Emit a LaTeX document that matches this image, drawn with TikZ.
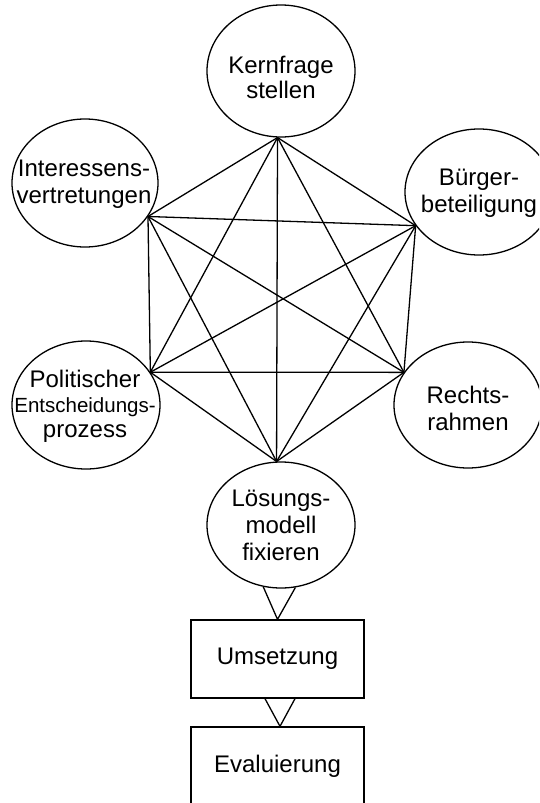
\documentclass[tikz,border=0pt]{standalone}
\usepackage{fontspec}
\setmainfont{Liberation Sans}
\usetikzlibrary{shapes.geometric}
\begin{document}
\begin{tikzpicture}[x=1pt,y=-1pt,
  bub/.style={draw, ellipse, inner sep=0pt, line width=1.3pt, minimum width=148pt, minimum height=128pt},
  lbl/.style={align=center, font=\fontsize{24}{27}\selectfont, inner sep=0pt},
  box/.style={draw, rectangle, minimum width=173pt, minimum height=78pt, inner sep=0pt, line width=1.3pt, font=\fontsize{24}{27}\selectfont},
  link/.style={line width=1.3pt},
]
\useasboundingbox (0,0) rectangle (539,803);
\clip (0,0) rectangle (539,803);
% bubbles
\node[bub, minimum height=132pt] (K) at (281,71) {};
\node[bub, minimum width=146pt] (I) at (85,183) {};
\node[bub, minimum height=126pt] (B) at (479,192) {};
\node[bub] (P) at (86,405) {};
\node[bub, minimum height=126pt] (R) at (468,405) {};
\node[bub, minimum height=126pt] (L) at (281,525) {};
% labels
\node[lbl] (tK) at (281,77) {Kernfrage\\[-2pt]stellen};
\node[lbl] (tI) at (84,184) {Interessens-\\vertretungen};
\node[lbl] (tB) at (479,193) {Bürger-\\beteiligung};
\node[lbl] (tP) at (85,406) {Politischer\\[-2pt]{\fontsize{20.5}{24}\selectfont Entscheidungs-}\\[-2pt]prozess};
\node[lbl] (tR) at (468,408) {Rechts-\\rahmen};
\node[lbl] (tL) at (281,525) {Lösungs-\\modell\\fixieren};
% vertices
\coordinate (vK) at (K.267);
\coordinate (vI) at (I.332);
\coordinate (vB) at (B.208);
\coordinate (vP) at (P.27);
\coordinate (vR) at (R.153);
\coordinate (vL) at (L.94);
\foreach \a/\b in {vK/vI, vK/vB, vK/vP, vK/vR, vK/vL, vI/vB, vI/vP, vI/vR, vI/vL, vB/vP, vB/vR, vB/vL, vP/vR, vP/vL, vR/vL}
  \draw[link] (\a) -- (\b);
% boxes
\node[box] (U) at (277.5,659) {Umsetzung};
\node[box] (E) at (277.5,766) {Evaluierung};
% open triangles
\draw[link, line join=miter] (L.254) -- (U.north) -- (L.283);
\draw[link, line join=miter] ([xshift=-12.5pt]U.south) -- ([xshift=2.5pt]E.north) -- ([xshift=17.5pt]U.south);
\end{tikzpicture}
\end{document}
